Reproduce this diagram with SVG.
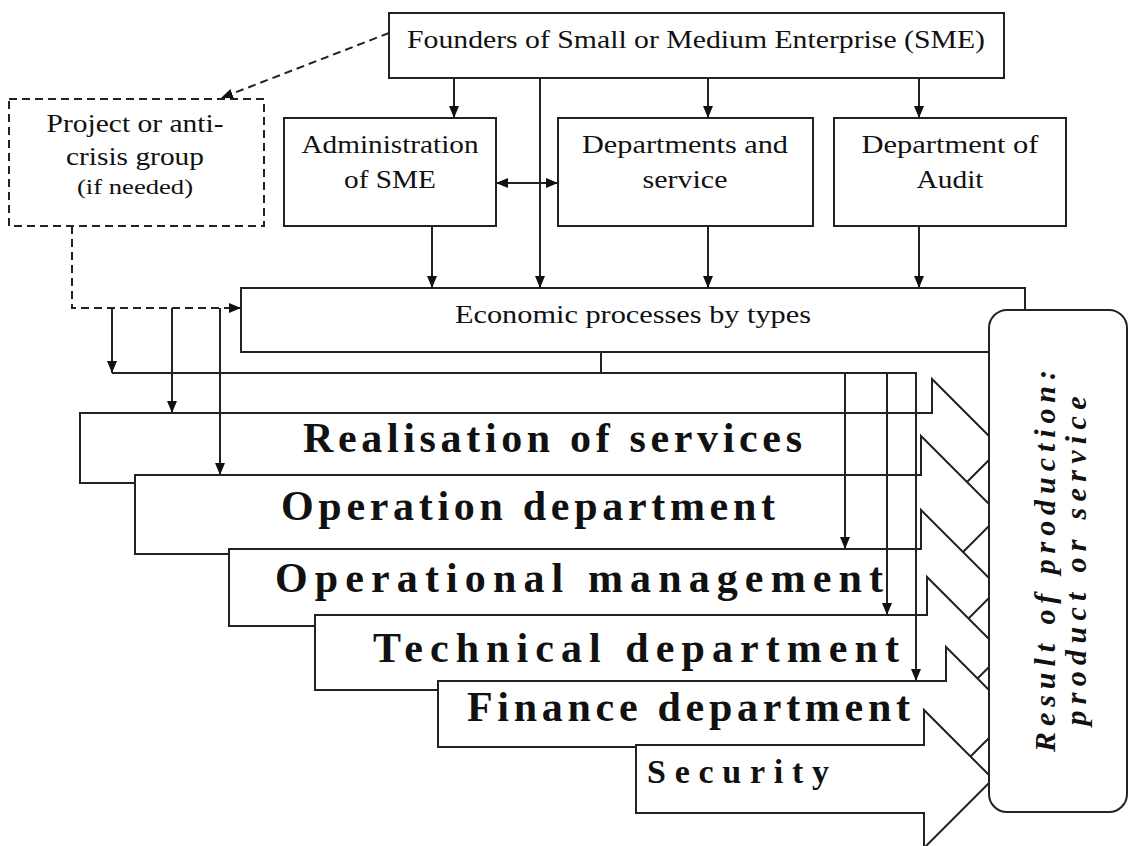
<svg xmlns="http://www.w3.org/2000/svg" width="1129" height="846" viewBox="0 0 1129 846">
<defs>
<style>
.box{fill:#fff;stroke:#222;stroke-width:2}
.dbox{fill:#fff;stroke:#222;stroke-width:2;stroke-dasharray:8 5}
.t{font-family:"Liberation Serif","Times New Roman",serif;font-size:26px;fill:#111;text-anchor:middle}
.s{font-size:22px}
.b{font-family:"Liberation Serif","Times New Roman",serif;font-weight:bold;font-size:42px;fill:#111}
.sec{font-size:34px}
.r{font-family:"Liberation Serif","Times New Roman",serif;font-weight:bold;font-style:italic;font-size:30px;fill:#111;text-anchor:middle}
.c{fill:none;stroke:#222;stroke-width:2}
.d{stroke-dasharray:8 5}
.a{marker-end:url(#ah)}
.a2{marker-start:url(#ah);marker-end:url(#ah)}
</style>
<marker id="ah" viewBox="0 0 12 10" refX="12" refY="5" markerWidth="12" markerHeight="10" markerUnits="userSpaceOnUse" orient="auto-start-reverse">
<path d="M0,0 L12,5 L0,10 z" fill="#111"/>
</marker>
</defs>
<rect width="1129" height="846" fill="#fff"/>

<g id="founders">
<rect class="box" x="389" y="13" width="615" height="65"/>
<text class="t" x="696" y="48" textLength="578" lengthAdjust="spacingAndGlyphs">Founders of Small or Medium Enterprise (SME)</text>
</g>
<g id="project">
<rect class="dbox" x="9" y="99" width="255" height="127"/>
<text class="t" x="135" y="132" textLength="177" lengthAdjust="spacingAndGlyphs">Project or anti-</text>
<text class="t" x="135" y="165" textLength="138" lengthAdjust="spacingAndGlyphs">crisis group</text>
<text class="t s" x="135" y="194" textLength="116" lengthAdjust="spacingAndGlyphs">(if needed)</text>
</g>
<g id="administration">
<rect class="box" x="284" y="118" width="212" height="108"/>
<text class="t" x="390" y="153" textLength="177" lengthAdjust="spacingAndGlyphs">Administration</text>
<text class="t" x="390" y="188" textLength="92" lengthAdjust="spacingAndGlyphs">of SME</text>
</g>
<g id="departments">
<rect class="box" x="558" y="118" width="255" height="108"/>
<text class="t" x="685" y="153" textLength="206" lengthAdjust="spacingAndGlyphs">Departments and</text>
<text class="t" x="685" y="188" textLength="85" lengthAdjust="spacingAndGlyphs">service</text>
</g>
<g id="audit">
<rect class="box" x="834" y="118" width="232" height="108"/>
<text class="t" x="950" y="153" textLength="177" lengthAdjust="spacingAndGlyphs">Department of</text>
<text class="t" x="950" y="188" textLength="67" lengthAdjust="spacingAndGlyphs">Audit</text>
</g>
<g id="economic">
<rect class="box" x="241" y="288" width="784" height="64"/>
<text class="t" x="633" y="323" textLength="356" lengthAdjust="spacingAndGlyphs">Economic processes by types</text>
</g>

<g id="realisation">
<polygon class="box" points="80,413 932,413 932,379 1001,448 932,517 932,483 80,483"/>
<text class="b" x="303" y="452" textLength="499" lengthAdjust="spacing">Realisation of services</text>
</g>
<g id="operation">
<polygon class="box" points="135,475 921,475 921,436 1000,515 921,594 921,554 135,554"/>
<text class="b" x="281" y="520" textLength="494" lengthAdjust="spacing">Operation department</text>
</g>
<g id="opmanagement">
<polygon class="box" points="229,549 921,549 921,510 999,588 921,666 921,626 229,626"/>
<text class="b" x="275" y="592" textLength="608" lengthAdjust="spacing">Operational management</text>
</g>
<g id="technical">
<polygon class="box" points="315,615 927,615 927,577 1003,653 927,729 927,690 315,690"/>
<text class="b" x="373" y="662" textLength="526" lengthAdjust="spacing">Technical department</text>
</g>
<g id="finance">
<polygon class="box" points="438,681 946,681 946,647 1013,714 946,781 946,747 438,747"/>
<text class="b" x="467" y="721" textLength="443" lengthAdjust="spacing">Finance department</text>
</g>
<g id="security">
<polygon class="box" points="636,745 924,745 924,710 993,779 924,848 924,813 636,813"/>
<text class="b sec" x="647" y="783" textLength="182" lengthAdjust="spacing">Security</text>
</g>
<g id="result">
<rect class="box" x="989" y="310" width="138" height="502" rx="18"/>
<g transform="translate(1055,561) rotate(-90)">
<text class="r" x="0" y="0" textLength="382" lengthAdjust="spacing">Result of production:</text>
<text class="r" x="0" y="31" textLength="329" lengthAdjust="spacing">product or service</text>
</g>
</g>

<g id="connectors">
<path class="c d a" d="M389,33 L221,98"/>
<path class="c d a" d="M72,226 V308 H241"/>
<path class="c a" d="M454,78 V118"/>
<path class="c a" d="M708,78 V118"/>
<path class="c a" d="M919,78 V118"/>
<path class="c a" d="M540,78 V288"/>
<path class="c a" d="M432,226 V288"/>
<path class="c a" d="M708,226 V288"/>
<path class="c a" d="M919,226 V288"/>
<path class="c a2" d="M496,183 H558"/>
<path class="c" d="M601,352 V373"/>
<path class="c a" d="M112,308 V373"/>
<path class="c a" d="M112,373 H916 V681"/>
<path class="c a" d="M172,308 V413"/>
<path class="c a" d="M220,308 V475"/>
<path class="c a" d="M845,373 V549"/>
<path class="c a" d="M887,373 V615"/>
</g>
</svg>
